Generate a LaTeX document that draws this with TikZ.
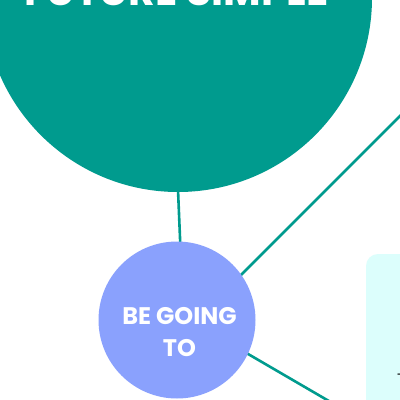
\documentclass[tikz,border=0pt]{standalone}
\usepackage{fontspec}
\setmainfont{Poppins}
\definecolor{teal1}{HTML}{009B8E}
\definecolor{peri}{HTML}{8AA1FD}
\definecolor{cyanbox}{HTML}{DCFEFC}
\tikzset{
  conn/.style={draw=teal1, line width=2.6pt},
  bigcirc/.style={circle, fill=teal1, minimum size=388pt, inner sep=0pt},
  smallcirc/.style={circle, fill=peri, minimum size=157pt, inner sep=0pt},
  boxstyle/.style={fill=cyanbox, rounded corners=12pt},
}
\begin{document}
\begin{tikzpicture}[x=1pt,y=-1pt]
\useasboundingbox (0,0) rectangle (400,400);
\clip (0,0) rectangle (400,400);
\fill[white] (0,0) rectangle (400,400);
% cyan box
\path[boxstyle] (366,254) rectangle (520,480);
\node[anchor=base west, font=\fontsize{15pt}{17pt}\selectfont, text=black, inner sep=0pt] (boxtext) at (397,384) {T};
% connector end points
\coordinate (a1) at (177.6,180);
\coordinate (a2) at (182.6,300);
\coordinate (b1) at (200,316);
\coordinate (c1) at (480,36);
\coordinate (d1) at (200,326);
\coordinate (c2) at (480,489);
\draw[conn] (a1) -- (a2);
\draw[conn] (b1) -- (c1);
\draw[conn] (d1) -- (c2);
% nodes (drawn over the connector ends)
\node[bigcirc] (future) at (178,-2) {};
\node[smallcirc] (going) at (177,320) {};
\node[anchor=base, text=white, font=\fontsize{41pt}{44pt}\selectfont\bfseries, inner sep=0pt] (ftitle) at (176.5,5) {FUTURE SIMPLE};
\node[align=center, text=white, font=\fontsize{24pt}{32pt}\selectfont\bfseries, inner sep=0pt] (gtext) at (179.5,332) {BE GOING\\TO};
\end{tikzpicture}
\end{document}
